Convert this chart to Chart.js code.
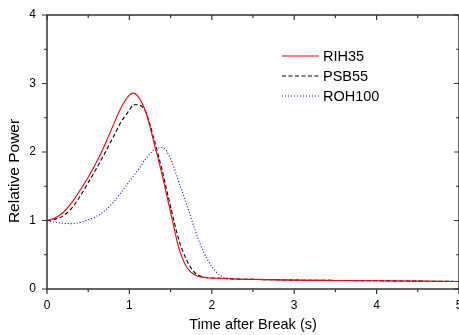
<!DOCTYPE html>
<html><head><meta charset="utf-8">
<script src="https://cdn.jsdelivr.net/npm/chart.js@4/dist/chart.umd.min.js"></script>
<style>html,body{margin:0;padding:0;background:#fff;overflow:hidden}#wrap{width:459px;height:335px;position:relative}</style>
</head><body><div id="wrap"><canvas id="c" width="459" height="335"></canvas></div>
<script>
const times  = [0, 0.1, 0.2, 0.3, 0.4, 0.5, 0.6, 0.7, 0.8, 0.9, 1.0, 1.05, 1.1, 1.2, 1.3, 1.4, 1.5, 1.6, 1.7, 1.8, 1.9, 2.0, 2.1, 2.2, 2.3, 2.5, 3.0, 3.5, 4.0, 4.5, 5.0];
const rih35  = [1.00, 1.04, 1.12, 1.26, 1.44, 1.63, 1.85, 2.10, 2.38, 2.65, 2.83, 2.86, 2.82, 2.58, 2.13, 1.65, 1.12, 0.60, 0.31, 0.20, 0.17, 0.16, 0.155, 0.15, 0.145, 0.14, 0.13, 0.125, 0.12, 0.115, 0.11];
const psb55  = [1.00, 1.02, 1.07, 1.18, 1.35, 1.55, 1.76, 1.98, 2.21, 2.44, 2.61, 2.69, 2.69, 2.58, 2.18, 1.72, 1.20, 0.72, 0.41, 0.23, 0.175, 0.16, 0.155, 0.15, 0.145, 0.14, 0.13, 0.125, 0.12, 0.115, 0.11];
const roh100 = [1.00, 0.975, 0.958, 0.955, 0.97, 1.01, 1.06, 1.14, 1.26, 1.41, 1.57, 1.65, 1.73, 1.90, 2.03, 2.065, 1.90, 1.56, 1.22, 0.85, 0.54, 0.33, 0.20, 0.16, 0.148, 0.14, 0.13, 0.125, 0.12, 0.115, 0.11];
const seriesLabels = ['RIH35', 'PSB55', 'ROH100'];
const xTickLabels = [0, 1, 2, 3, 4, 5];
const yTickLabels = [0, 1, 2, 3, 4];
const xTitle = 'Time after Break (s)';
const yTitle = 'Relative Power';

const FONT = "'Liberation Sans', Arial, sans-serif";
const toPts = (ys) => times.map((t, i) => ({x: t, y: ys[i]}));

const framePlugin = {
  id: 'frame',
  afterDatasetsDraw(chart) {
    const {ctx, chartArea: {left, right, top, bottom}, scales: {x, y}} = chart;
    ctx.save();
    ctx.strokeStyle = '#333';
    ctx.lineWidth = 1.5;
    ctx.strokeRect(left, top, right - left, bottom - top);
    ctx.lineWidth = 1.2;
    ctx.beginPath();
    for (let v = x.min; v <= x.max + 1e-9; v += 0.5) {
      const px = x.getPixelForValue(v);
      const L = xTickLabels.includes(Math.round(v * 2) / 2) ? 5 : 3;
      ctx.moveTo(px, bottom); ctx.lineTo(px, bottom + L);
      ctx.moveTo(px, top); ctx.lineTo(px, top + L);
    }
    for (let v = y.min; v <= y.max + 1e-9; v += 0.5) {
      const py = y.getPixelForValue(v);
      const L = yTickLabels.includes(Math.round(v * 2) / 2) ? 5 : 3;
      ctx.moveTo(left, py); ctx.lineTo(left - L, py);
      ctx.moveTo(right, py); ctx.lineTo(right - L, py);
    }
    ctx.stroke();

    // legend
    const lx0 = 282, lx1 = 319, tx = 323, ly0 = 56, dy = 20;
    chart.data.datasets.forEach((ds, i) => {
      const yy = ly0 + i * dy;
      ctx.strokeStyle = ds.borderColor;
      ctx.lineWidth = ds.borderWidth;
      ctx.setLineDash(ds.borderDash || []);
      ctx.beginPath(); ctx.moveTo(lx0, yy); ctx.lineTo(lx1, yy); ctx.stroke();
      ctx.setLineDash([]);
      ctx.fillStyle = '#000';
      ctx.font = '14.5px ' + FONT;
      ctx.textAlign = 'left'; ctx.textBaseline = 'middle';
      ctx.fillText(ds.label, tx, yy + 0.5);
    });

    // y title
    ctx.translate(15, 171);
    ctx.rotate(-Math.PI / 2);
    ctx.fillStyle = '#000';
    ctx.font = '15.5px ' + FONT;
    ctx.textAlign = 'center'; ctx.textBaseline = 'middle';
    ctx.fillText(yTitle, 0, 0);
    ctx.restore();
  }
};

new Chart(document.getElementById('c'), {
  type: 'line',
  data: {
    datasets: [
      {label: seriesLabels[0], data: toPts(rih35), borderColor: '#ff0000', borderWidth: 1.1, pointRadius: 0, fill: false, cubicInterpolationMode: 'monotone'},
      {label: seriesLabels[1], data: toPts(psb55), borderColor: '#000000', borderWidth: 1.1, borderDash: [4, 2.5], pointRadius: 0, fill: false, cubicInterpolationMode: 'monotone'},
      {label: seriesLabels[2], data: toPts(roh100), borderColor: '#0000ff', borderWidth: 1.1, borderDash: [1, 2], pointRadius: 0, fill: false, cubicInterpolationMode: 'monotone'}
    ]
  },
  options: {
    responsive: false,
    animation: false,
    devicePixelRatio: 1,
    layout: {padding: {left: 0, right: -1.5, top: 15, bottom: 0}},
    plugins: {legend: {display: false}, tooltip: {enabled: false}},
    scales: {
      x: {
        type: 'linear', min: 0, max: 5,
        afterBuildTicks: (s) => { s.ticks = xTickLabels.map(v => ({value: v})); },
        ticks: {color: '#000', font: {family: FONT, size: 12}, padding: 4, maxRotation: 0, autoSkip: false},
        grid: {display: true, drawOnChartArea: false, drawTicks: true, tickLength: 5, tickColor: 'rgba(0,0,0,0)'},
        border: {display: false},
        title: {display: true, text: xTitle, color: '#000', font: {family: FONT, size: 14.5}, padding: {top: 0, bottom: 1}},
        afterFit: (s) => { s.height = 46; s.paddingLeft = 0; s.paddingRight = 0; }
      },
      y: {
        type: 'linear', min: 0, max: 4,
        afterBuildTicks: (s) => { s.ticks = yTickLabels.map(v => ({value: v})); },
        ticks: {color: '#000', font: {family: FONT, size: 12}, padding: 6},
        grid: {display: true, drawOnChartArea: false, drawTicks: true, tickLength: 5, tickColor: 'rgba(0,0,0,0)'},
        border: {display: false},
        title: {display: false},
        afterFit: (s) => { s.width = 47; s.paddingTop = 0; s.paddingBottom = 0; }
      }
    }
  },
  plugins: [framePlugin]
});
</script>
</body></html>
